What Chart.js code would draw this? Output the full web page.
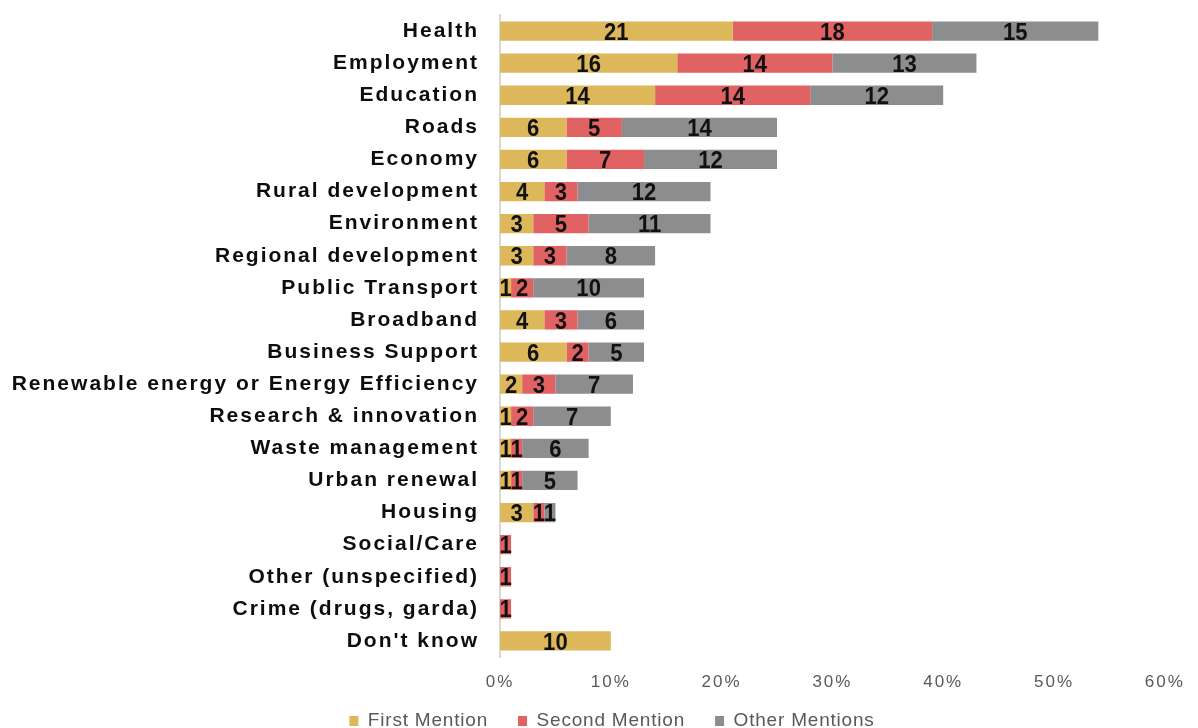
<!DOCTYPE html>
<html>
<head>
<meta charset="utf-8">
<script src="https://cdn.jsdelivr.net/npm/chart.js@4"></script>
<style>
  html, body { margin: 0; padding: 0; background: #fff; overflow: hidden; }
  #wrap { width: 1198px; height: 728px; overflow: hidden; }
  canvas { display: block; }
</style>
</head>
<body>
<div id="wrap"><canvas id="issuesChart" width="1198" height="749"></canvas></div>
<script>
const categories = [
  'Health', 'Employment', 'Education', 'Roads', 'Economy', 'Rural development',
  'Environment', 'Regional development', 'Public Transport', 'Broadband',
  'Business Support', 'Renewable energy or Energy Efficiency', 'Research & innovation',
  'Waste management', 'Urban renewal', 'Housing', 'Social/Care',
  'Other (unspecified)', 'Crime (drugs, garda)', "Don't know"
];
const firstMention  = [21, 16, 14, 6, 6, 4, 3, 3, 1, 4, 6, 2, 1, 1, 1, 3, 0, 0, 0, 10];
const secondMention = [18, 14, 14, 5, 7, 3, 5, 3, 2, 3, 2, 3, 2, 1, 1, 1, 1, 1, 1, 0];
const otherMentions = [15, 13, 12, 14, 12, 12, 11, 8, 10, 6, 5, 7, 7, 6, 5, 1, 0, 0, 0, 0];
const xTicks = [0, 10, 20, 30, 40, 50, 60];

const AXIS_SPACING = '2px';
const LEGEND_SPACING = '0.8px';
// legend sits a little right of the plot centre and tucked up under the ticks
const LEGEND_SHIFT = { x: 26, y: -8.5 };

// loose letter spacing: axes get a wider one than the legend
const spacedText = {
  id: 'spacedText',
  afterInit(chart) {
    const legend = chart.legend;
    const draw = legend.draw;
    legend.draw = function (...args) {
      const c = chart.ctx;
      c.save();
      c.letterSpacing = LEGEND_SPACING;
      c.translate(LEGEND_SHIFT.x, LEGEND_SHIFT.y);
      draw.apply(this, args);
      c.restore();
    };
  },
  beforeLayout(chart) { chart.ctx.letterSpacing = LEGEND_SPACING; },
  afterLayout(chart) { chart.ctx.letterSpacing = '0px'; },
  beforeDraw(chart) { chart.ctx.letterSpacing = AXIS_SPACING; },
  afterDraw(chart) { chart.ctx.letterSpacing = '0px'; }
};

// prints each segment's value in the middle of the bar piece
const segmentLabels = {
  id: 'segmentLabels',
  afterDatasetsDraw(chart) {
    const c = chart.ctx;
    c.save();
    c.letterSpacing = '0px';
    c.font = 'bold 24px "Liberation Sans", Arial, sans-serif';
    c.fillStyle = '#111';
    c.textAlign = 'center';
    c.textBaseline = 'alphabetic';
    chart.data.datasets.forEach((ds, i) => {
      chart.getDatasetMeta(i).data.forEach((bar, j) => {
        const v = ds.data[j];
        if (!v) return;
        c.save();
        c.translate((bar.x + bar.base) / 2, bar.y + 8.6);
        c.scale(0.92, 1);
        c.fillText(String(v), 0, 0);
        c.restore();
      });
    });
    c.restore();
  }
};

new Chart(document.getElementById('issuesChart'), {
  type: 'bar',
  data: {
    labels: categories,
    datasets: [
      { label: 'First Mention', data: firstMention, backgroundColor: '#DDB85A' },
      { label: 'Second Mention', data: secondMention, backgroundColor: '#E06262' },
      { label: 'Other Mentions', data: otherMentions, backgroundColor: '#8B8D8E' }
    ]
  },
  options: {
    indexAxis: 'y',
    responsive: false,
    animation: false,
    layout: { padding: { top: 15, right: 26, left: 0, bottom: 0 } },
    datasets: { bar: { categoryPercentage: 0.6, barPercentage: 1.0, borderWidth: 0 } },
    scales: {
      x: {
        stacked: true,
        min: 0,
        max: 60,
        afterBuildTicks(axis) { axis.ticks = xTicks.map(v => ({ value: v })); },
        afterFit(axis) { axis.height = 33; axis.paddingTop = 0; },
        grid: { display: false, drawTicks: false },
        border: { display: false },
        ticks: {
          callback: v => v + '%',
          color: '#595959',
          padding: 15,
          maxRotation: 0,
          font: { family: 'Liberation Sans, Arial, sans-serif', size: 17 }
        }
      },
      y: {
        stacked: true,
        afterFit(axis) { axis.width = 500; axis.paddingTop = 0; axis.paddingBottom = 0; },
        grid: { display: false, drawTicks: false },
        border: { display: true, color: '#d9d9d9', width: 2 },
        ticks: {
          color: '#0d0d0d',
          padding: 21,
          font: { family: 'Liberation Sans, Arial, sans-serif', size: 21, weight: 'bold' }
        }
      }
    },
    plugins: {
      tooltip: { enabled: false },
      legend: {
        position: 'bottom',
        labels: {
          boxWidth: 9,
          boxHeight: 10,
          padding: 30,
          color: '#595959',
          font: { family: 'Liberation Sans, Arial, sans-serif', size: 19 }
        }
      }
    }
  },
  plugins: [spacedText, segmentLabels]
});
</script>
</body>
</html>
